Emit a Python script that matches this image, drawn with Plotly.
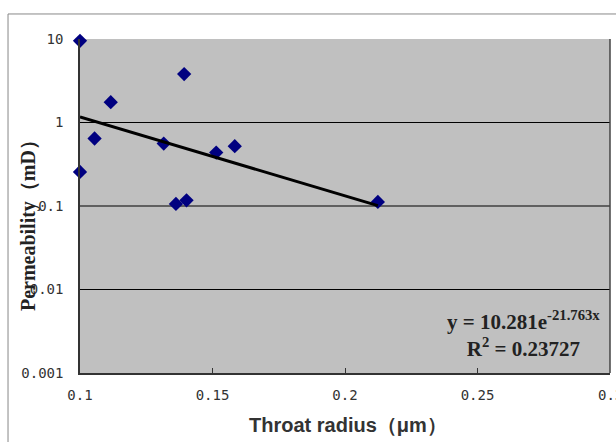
import math
import plotly.graph_objects as go

# Data
throat_radius = [0.1000, 0.1000, 0.1055, 0.1116, 0.1316, 0.1362, 0.1393, 0.1402, 0.1514, 0.1584, 0.2124]
permeability = [9.5, 0.256, 0.643, 1.75, 0.56, 0.106, 3.8, 0.117, 0.436, 0.52, 0.112]

# Trendline (as stated on the chart): y = 10.281 e^(-21.763 x)
trend_a = 10.281
trend_b = -21.763
trend_x = [min(throat_radius), max(throat_radius)]

x_ticks = [0.1, 0.15, 0.2, 0.25, 0.3]
x_ticktext = ["0.1", "0.15", "0.2", "0.25", "0.3"]
y_ticks = [10, 1, 0.1, 0.01, 0.001]
y_ticktext = ["10", "1", "0.1", "0.01", "0.001"]
grid_values = [1, 0.1, 0.01]

trend_y = [trend_a * math.exp(trend_b * x) for x in trend_x]

tick_font = dict(family="DejaVu Sans Mono", size=14, color="#333")

fig = go.Figure()
fig.add_trace(go.Scatter(
    x=throat_radius, y=permeability, mode="markers",
    marker=dict(symbol="diamond", size=11, color="#000080"),
    cliponaxis=False, showlegend=False))
fig.add_trace(go.Scatter(
    x=trend_x, y=trend_y, mode="lines",
    line=dict(color="black", width=3), showlegend=False))

shapes = []
for g in grid_values:
    shapes.append(dict(type="line", xref="paper", x0=0, x1=1, yref="y", y0=g, y1=g,
                       line=dict(color="black", width=1.2), layer="below"))
# right plot border
shapes.append(dict(type="line", xref="paper", x0=1, x1=1, yref="paper", y0=0, y1=1,
                   line=dict(color="#444", width=1.5)))
# outer chart frame
shapes.append(dict(type="rect", xref="paper", yref="paper",
                   x0=-0.1358, x1=1.06, y0=-0.25, y1=1.0749,
                   line=dict(color="#888", width=1), fillcolor="rgba(0,0,0,0)", layer="below"))

annotations = [
    dict(text="<b>Permeability（mD）</b>", xref="paper", yref="paper",
         x=-0.098, y=0.455, textangle=-90, showarrow=False,
         font=dict(family="Liberation Serif", size=20, color="#222"),
         xanchor="center", yanchor="middle"),
    dict(text="<b>Throat radius（μm）</b>", xref="paper", yref="paper",
         x=0.505, y=-0.156, showarrow=False,
         font=dict(family="Liberation Sans", size=20, color="#333"),
         xanchor="center", yanchor="middle"),
    dict(text="<b>y = 10.281e<sup>-21.763x</sup></b><br><b>R<sup>2</sup> = 0.23727</b>",
         xref="paper", yref="paper", x=0.836, y=0.118, showarrow=False,
         align="center", xanchor="center", yanchor="middle",
         font=dict(family="Liberation Serif", size=21, color="#222")),
]
# last x tick label (clipped at the right edge in the reference)
annotations.append(dict(text=x_ticktext[-1], xref="x", yref="paper", x=x_ticks[-1], y=0,
                        yshift=-22, showarrow=False, xanchor="center", yanchor="middle",
                        font=tick_font))

fig.update_layout(
    width=616, height=442,
    margin=dict(l=80, r=6, t=39, b=69),
    paper_bgcolor="white", plot_bgcolor="#c0c0c0",
    shapes=shapes,
    xaxis=dict(range=[0.1, 0.3], tickvals=x_ticks[:-1], ticktext=x_ticktext[:-1],
               showgrid=False, zeroline=False, showline=True, linecolor="#333", linewidth=1.5,
               ticks="inside", ticklen=5, tickcolor="#333",
               tickfont=dict(family="DejaVu Sans Mono", size=14, color="#333"),
               ticklabelstandoff=8),
    yaxis=dict(type="log", range=[-3, 1], tickvals=y_ticks, ticktext=y_ticktext,
               showgrid=False, zeroline=False, showline=True, linecolor="#333", linewidth=1.5,
               ticks="", tickfont=tick_font,
               ticklabelstandoff=12),
    annotations=annotations,
)

fig.write_html("out.html")
